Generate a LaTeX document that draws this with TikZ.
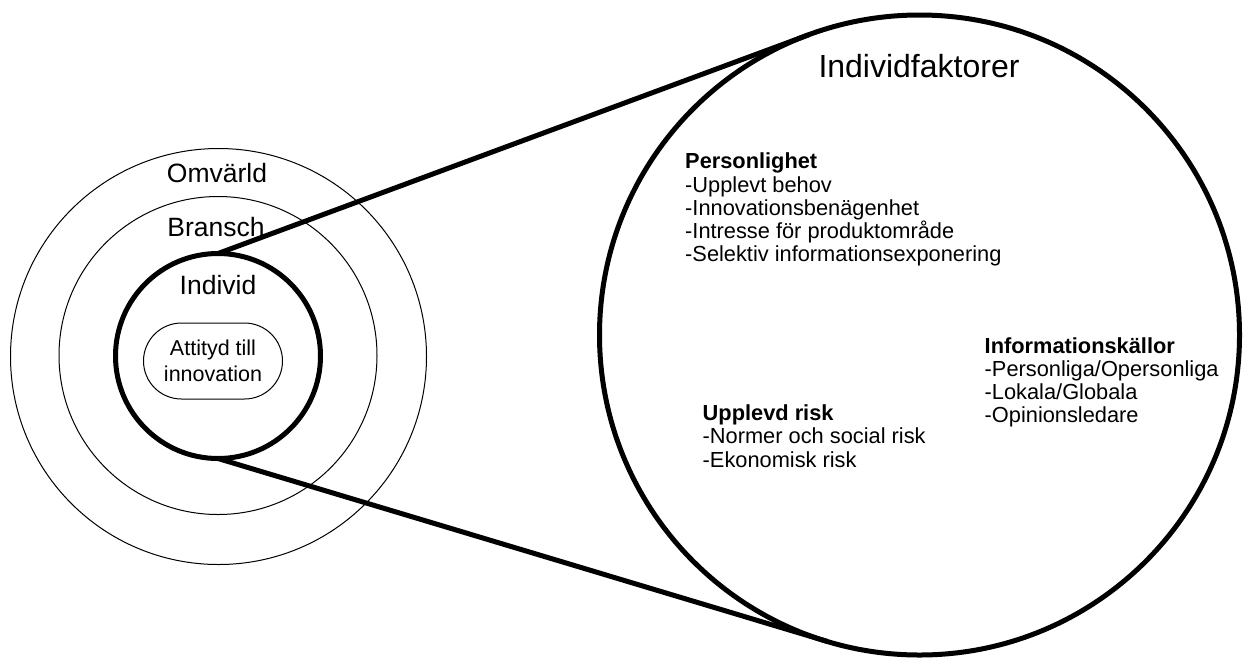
\documentclass[tikz,border=0pt]{standalone}
\usepackage{fontspec}
\setmainfont{Liberation Sans}
\usetikzlibrary{calc,shapes.misc}
\begin{document}
\begin{tikzpicture}[x=1pt,y=-1pt,
  ring/.style={circle,draw,line width=1pt,inner sep=0pt,outer sep=0pt},
  bigring/.style={circle,draw,line width=5pt,inner sep=0pt,outer sep=0pt},
  zoomline/.style={line width=5pt},
  lbl/.style={anchor=base,inner sep=0pt,font=\fontsize{26.5}{30}\selectfont},
  listtext/.style={anchor=north west,inner sep=0pt,align=left,font=\fontsize{21.8}{23.3}\selectfont},
  pill/.style={rounded rectangle,draw,line width=1pt,minimum width=139pt,minimum height=76pt,inner sep=0pt,align=center,font=\fontsize{21.5}{26}\selectfont}]
\useasboundingbox (0,0) rectangle (1244,657);
\node[ring,minimum size=416pt] (omv) at (218.5,356.5) {};
\node[ring,minimum size=318pt] (bra) at (218,355.5) {};
\node[bigring,minimum size=205pt] (ind) at (218,356) {};
\node[bigring,minimum size=640pt] (big) at (919.5,335) {};
% y axis is flipped: ind.south is the top of the circle on the page
\draw[zoomline] (ind.south) -- (tangent cs:node=big,point={(ind.south)},solution=1);
\draw[zoomline] (ind.north) -- (tangent cs:node=big,point={(ind.north)},solution=2);
\node[lbl] (lomv) at (217,182) {Omvärld};
\node[lbl] (lbra) at (216,236) {Bransch};
\node[lbl] (lind) at (218,294) {Individ};
\node[pill] (att) at (213,361) {Attityd till\\innovation};
\node[anchor=base,inner sep=0pt,font=\fontsize{32}{36}\selectfont] (title) at (919,77) {Individfaktorer};
\node[listtext] (pers) at (685,152.7) {\textbf{Personlighet}\\-Upplevt behov\\-Innovationsbenägenhet\\-Intresse för produktområde\\-Selektiv informationsexponering};
\node[listtext] (info) at (984.5,337) {\textbf{Informationskällor}\\-Personliga/Opersonliga\\-Lokala/Globala\\-Opinionsledare};
\node[listtext] (risk) at (702.5,404.6) {\textbf{Upplevd risk}\\-Normer och social risk\\-Ekonomisk risk};
\end{tikzpicture}
\end{document}
